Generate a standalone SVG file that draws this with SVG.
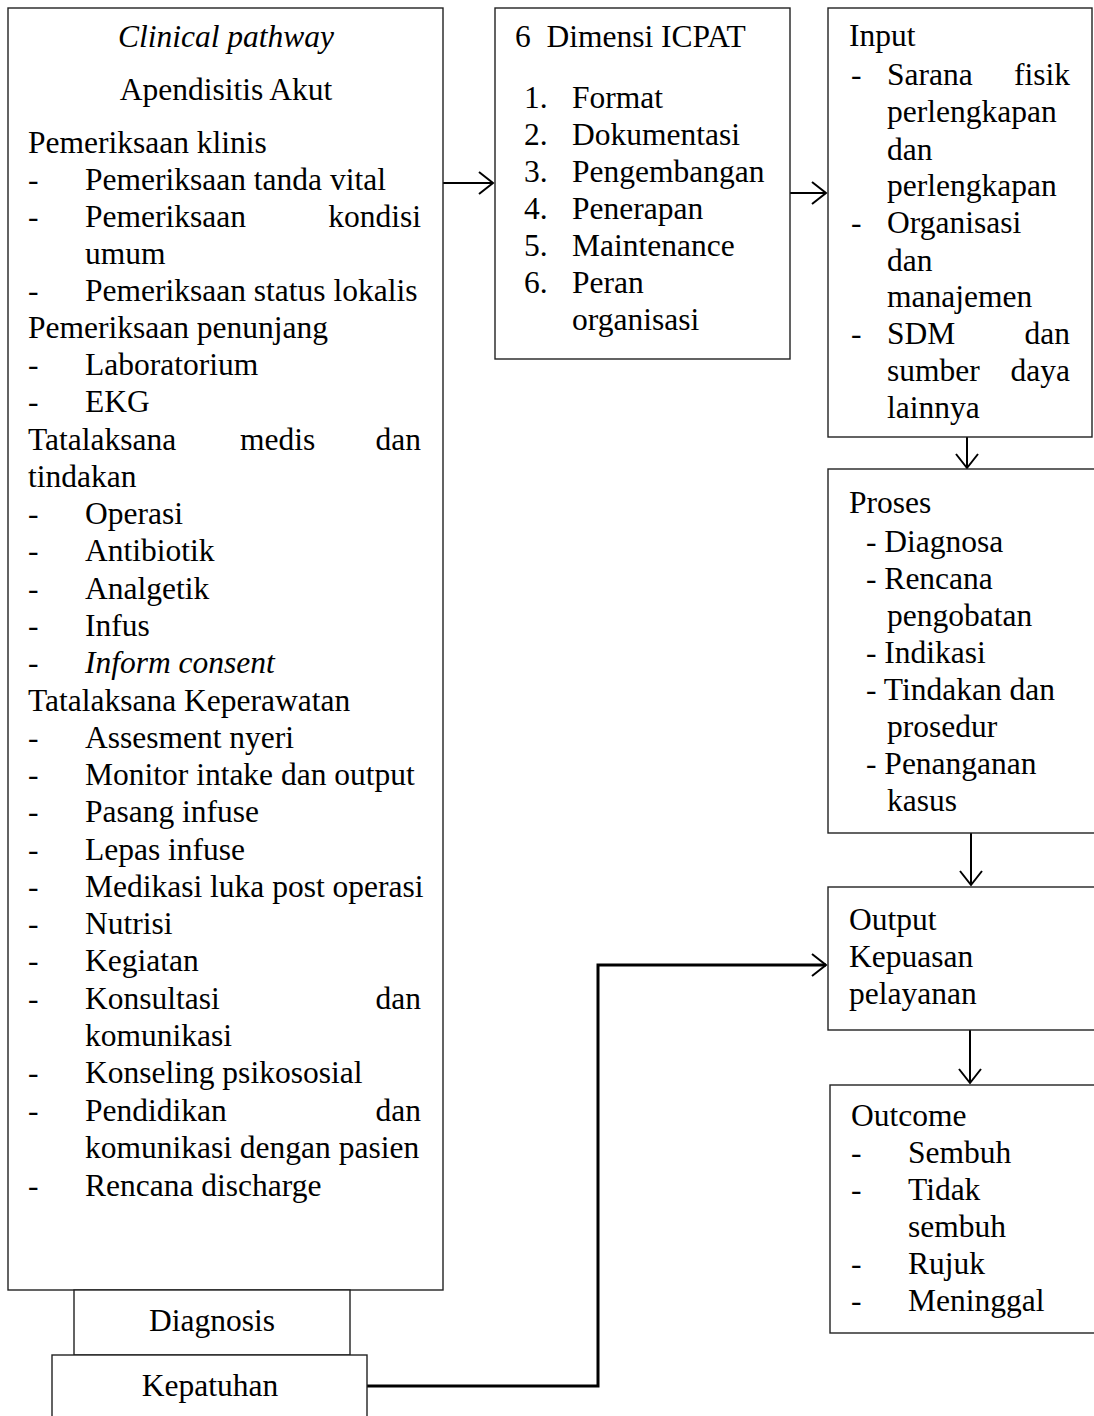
<svg xmlns="http://www.w3.org/2000/svg" width="1094" height="1416" viewBox="0 0 1094 1416">
<style>
text{font-family:"Liberation Serif","Times New Roman",serif;font-size:31.5px;fill:#000}
.it{font-style:italic}
.box{fill:#fff;stroke:#222;stroke-width:1.4}
.c{text-anchor:middle}
.e{text-anchor:end}
.con{fill:none;stroke:#000;stroke-width:2}
</style>
<defs>
<marker id="ah" markerUnits="userSpaceOnUse" markerWidth="20" markerHeight="28" refX="17" refY="14" orient="auto">
<path d="M3,3 L17,14 L3,25" fill="none" stroke="#000" stroke-width="2"/>
</marker>
</defs>
<g id="connectors">
<line class="con" x1="443" y1="183" x2="493" y2="183" marker-end="url(#ah)"/>
<line class="con" x1="790" y1="193" x2="826" y2="193" marker-end="url(#ah)"/>
<line class="con" x1="967" y1="437" x2="967" y2="468" marker-end="url(#ah)"/>
<line class="con" x1="971" y1="833" x2="971" y2="885" marker-end="url(#ah)"/>
<line class="con" x1="970" y1="1030" x2="970" y2="1083" marker-end="url(#ah)"/>
<polyline class="con" style="stroke-width:3" points="367,1386 598,1386 598,965 826,965" marker-end="url(#ah)"/>
</g>
<g id="clinical-pathway">
<rect class="box" x="8" y="8" width="435" height="1282"/>
<text class="c it" x="226" y="47">Clinical pathway</text>
<text class="c" x="226" y="100">Apendisitis Akut</text>
<text x="28" y="153">Pemeriksaan klinis</text>
<text x="28" y="190">-</text><text x="85" y="190">Pemeriksaan tanda vital</text>
<text x="28" y="227">-</text><text x="85" y="227">Pemeriksaan</text><text class="e" x="421" y="227">kondisi</text>
<text x="85" y="264">umum</text>
<text x="28" y="301">-</text><text x="85" y="301">Pemeriksaan status lokalis</text>
<text x="28" y="338">Pemeriksaan penunjang</text>
<text x="28" y="375">-</text><text x="85" y="375">Laboratorium</text>
<text x="28" y="412">-</text><text x="85" y="412">EKG</text>
<text x="28" y="450">Tatalaksana</text><text x="240" y="450">medis</text><text class="e" x="421" y="450">dan</text>
<text x="28" y="487">tindakan</text>
<text x="28" y="524">-</text><text x="85" y="524">Operasi</text>
<text x="28" y="561">-</text><text x="85" y="561">Antibiotik</text>
<text x="28" y="599">-</text><text x="85" y="599">Analgetik</text>
<text x="28" y="636">-</text><text x="85" y="636">Infus</text>
<text x="28" y="673">-</text><text class="it" x="85" y="673">Inform consent</text>
<text x="28" y="711">Tatalaksana Keperawatan</text>
<text x="28" y="748">-</text><text x="85" y="748">Assesment nyeri</text>
<text x="28" y="785">-</text><text x="85" y="785">Monitor intake dan output</text>
<text x="28" y="822">-</text><text x="85" y="822">Pasang infuse</text>
<text x="28" y="860">-</text><text x="85" y="860">Lepas infuse</text>
<text x="28" y="897">-</text><text x="85" y="897">Medikasi luka post operasi</text>
<text x="28" y="934">-</text><text x="85" y="934">Nutrisi</text>
<text x="28" y="971">-</text><text x="85" y="971">Kegiatan</text>
<text x="28" y="1009">-</text><text x="85" y="1009">Konsultasi</text><text class="e" x="421" y="1009">dan</text>
<text x="85" y="1046">komunikasi</text>
<text x="28" y="1083">-</text><text x="85" y="1083">Konseling psikososial</text>
<text x="28" y="1121">-</text><text x="85" y="1121">Pendidikan</text><text class="e" x="421" y="1121">dan</text>
<text x="85" y="1158">komunikasi dengan pasien</text>
<text x="28" y="1196">-</text><text x="85" y="1196">Rencana discharge</text>
</g>
<g id="diagnosis">
<rect class="box" x="74" y="1290" width="276" height="65"/>
<text class="c" x="212" y="1331">Diagnosis</text>
</g>
<g id="kepatuhan">
<rect class="box" x="52" y="1355" width="315" height="70"/>
<text class="c" x="210" y="1396">Kepatuhan</text>
</g>
<g id="icpat">
<rect class="box" x="495" y="8" width="295" height="351"/>
<text x="515" y="47" xml:space="preserve">6  Dimensi ICPAT</text>
<text x="524" y="108">1.</text><text x="572" y="108">Format</text>
<text x="524" y="145">2.</text><text x="572" y="145">Dokumentasi</text>
<text x="524" y="182">3.</text><text x="572" y="182">Pengembangan</text>
<text x="524" y="219">4.</text><text x="572" y="219">Penerapan</text>
<text x="524" y="256">5.</text><text x="572" y="256">Maintenance</text>
<text x="524" y="293">6.</text><text x="572" y="293">Peran</text>
<text x="572" y="330">organisasi</text>
</g>
<g id="input">
<rect class="box" x="828" y="8" width="264" height="429"/>
<text x="849" y="46">Input</text>
<text x="851" y="85">-</text><text x="887" y="85">Sarana</text><text class="e" x="1070" y="85">fisik</text>
<text x="887" y="122">perlengkapan</text>
<text x="887" y="160">dan</text>
<text x="887" y="196">perlengkapan</text>
<text x="851" y="233">-</text><text x="887" y="233">Organisasi</text>
<text x="887" y="271">dan</text>
<text x="887" y="307">manajemen</text>
<text x="851" y="344">-</text><text x="887" y="344">SDM</text><text class="e" x="1070" y="344">dan</text>
<text x="887" y="381">sumber</text><text class="e" x="1070" y="381">daya</text>
<text x="887" y="418">lainnya</text>
</g>
<g id="proses">
<rect class="box" x="828" y="469" width="268" height="364"/>
<text x="849" y="513">Proses</text>
<text x="866" y="552">- Diagnosa</text>
<text x="866" y="589">- Rencana</text>
<text x="887" y="626">pengobatan</text>
<text x="866" y="663">- Indikasi</text>
<text x="866" y="700">- Tindakan dan</text>
<text x="887" y="737">prosedur</text>
<text x="866" y="774">- Penanganan</text>
<text x="887" y="811">kasus</text>
</g>
<g id="output">
<rect class="box" x="828" y="887" width="268" height="143"/>
<text x="849" y="930">Output</text>
<text x="849" y="967">Kepuasan</text>
<text x="849" y="1004">pelayanan</text>
</g>
<g id="outcome">
<rect class="box" x="830" y="1085" width="266" height="248"/>
<text x="851" y="1126">Outcome</text>
<text x="851" y="1163">-</text><text x="908" y="1163">Sembuh</text>
<text x="851" y="1200">-</text><text x="908" y="1200">Tidak</text>
<text x="908" y="1237">sembuh</text>
<text x="851" y="1274">-</text><text x="908" y="1274">Rujuk</text>
<text x="851" y="1311">-</text><text x="908" y="1311">Meninggal</text>
</g>
</svg>
